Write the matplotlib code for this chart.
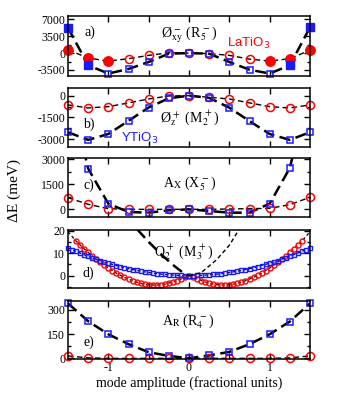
import numpy as np
import matplotlib
matplotlib.use("Agg")
import matplotlib.pyplot as plt
from matplotlib.ticker import MultipleLocator, FixedLocator

plt.rcParams["font.family"] = ["Liberation Serif", "DejaVu Serif"]
plt.rcParams["mathtext.fontset"] = "stix"
plt.rcParams["axes.unicode_minus"] = False

RED = "#ff0000"
BLUE = "#1a1aff"

# amplitudes for panels a, b, c, e
amp = [-1.5, -1.25, -1.0, -0.75, -0.5, -0.25, 0.0, 0.25, 0.5, 0.75, 1.0, 1.25, 1.5]

# a) phi_xy- (R5-)
a_la = [700, -1030, -1650, -1160, -470, 60, 0, -100, -470, -1250, -1650, -1160, 600]
a_y = [5250, -2530, -4240, -3300, -1850, -120, 0, -120, -1850, -3450, -4240, -2530, 5350]
a_la_filled = [0, 1, 2, 10, 11, 12]
a_y_filled = [0, 1, 11, 12]

# b) phi_z+ (M2+)
b_la = [-640, -850, -760, -500, -230, -20, 0, -110, -230, -500, -760, -850, -640]
b_y = [-2530, -3060, -2650, -1740, -820, -180, 0, -150, -830, -1760, -2650, -3060, -2530]

# c) A_X (X5-)   (blue end points are off the top of the frame)
c_la = [700, 300, 40, 0, 0, 0, 0, 0, 20, 40, 60, 280, 720]
c_y = [7500, 2440, 340, -160, -200, -60, 0, -100, -200, -200, 340, 2480, 7500]

# d) Q2+ (M3+)   dense scans
d_amp_y = np.linspace(-1.5, 1.5, 61)
d_y = [12.4, 11.6, 10.8, 10.05, 9.3, 8.6, 7.95, 7.3, 6.7, 6.1, 5.55,
       5.0, 4.5, 4.0, 3.55, 3.12, 2.72, 2.35, 2.0, 1.68, 1.4,
       1.13, 0.9, 0.7, 0.52, 0.37, 0.25, 0.15, 0.07, 0.02, 0.0,
       0.02, 0.07, 0.15, 0.25, 0.37, 0.52, 0.7, 0.9, 1.13, 1.4,
       1.68, 2.0, 2.35, 2.72, 3.12, 3.55, 4.0, 4.5, 5.0, 5.55,
       6.1, 6.7, 7.3, 7.95, 8.6, 9.3, 10.05, 10.8, 11.6, 12.4]
d_amp_la = np.linspace(-1.4, 1.4, 57)
d_la = [15.4, 13.6, 11.9, 10.3, 8.8, 7.4, 6.0, 4.7, 3.4, 2.2,
        1.1, 0.1, -0.8, -1.6, -2.3, -2.9, -3.4, -3.8, -4.1, -4.2,
        -4.2, -4.1, -3.8, -3.4, -2.8, -2.2, -1.5, -0.7, 0.0,
        -0.7, -1.5, -2.2, -2.8, -3.4, -3.8, -4.1, -4.2, -4.2,
        -4.1, -3.8, -3.4, -2.9, -2.3, -1.6, -0.8, 0.1, 1.1, 2.2,
        3.4, 4.7, 6.0, 7.4, 8.8, 10.3, 11.9, 13.6, 15.4]
d_fit_amp = [-1.5, -1.4, -1.3, -1.2, -1.1, -1.0, -0.9, -0.8, -0.7, -0.6, -0.5, -0.4, -0.3, -0.2, -0.1, 0.0,
             0.1, 0.2, 0.3, 0.4, 0.5, 0.6, 0.7, 0.8, 0.9, 1.0, 1.1, 1.2, 1.3, 1.4, 1.5]
d_la_fit = [19.5, 15.4, 11.9, 8.8, 6.0, 3.4, 1.1, -0.8, -2.3, -3.4, -4.1, -4.2, -3.8, -2.8, -1.5, 0.0,
            -1.5, -2.8, -3.8, -4.2, -4.1, -3.4, -2.3, -0.8, 1.1, 3.4, 6.0, 8.8, 11.9, 15.4, 19.5]
# steep curves through the origin
d_steep_l_x = [-0.64, -0.5, -0.36, -0.2, -0.07, 0.0]
d_steep_l_y = [20.5, 15.0, 10.0, 4.8, 1.2, 0.0]
d_steep_r_x = [0.0, 0.15, 0.34, 0.5, 0.62]
d_steep_r_y = [0.0, 1.3, 7.0, 13.5, 20.5]

# e) A_R (R4-)
e_la = [15, 3, 0, 0, 0, 0, 0, 0, 0, 0, 0, 3, 15]
e_y = [340, 230, 149, 88, 38, 15, 1, 18, 40, 88, 149, 228, 340]

fig = plt.figure(figsize=(3.39, 3.96), dpi=100)
L, W = 68 / 339, 242 / 339


def panel(top, bot):
    return fig.add_axes([L, 1 - bot / 396, W, (bot - top) / 396])


axes = [panel(16, 75.5), panel(88, 146.7), panel(158, 217), panel(230, 288), panel(301, 359)]

thin = dict(color="k", lw=1.0, dashes=(4, 2.5))
thick = dict(color="k", lw=1.8, dashes=(4.5, 2.2))
opn = dict(ls="none", mfc="none", mew=1.1)


def pair(ax, la, yt, clip_blue=False):
    ax.plot(amp, la, **thin)
    ax.plot(amp, yt, **thick)
    ax.plot(amp, la, marker="o", ms=5.8, mec=RED, clip_on=False, **opn)
    # blue markers in c) go far off the frame, keep them clipped there
    ax.plot(amp, yt, marker="s", ms=5.0, mec=BLUE, clip_on=clip_blue, **opn)


# a
ax = axes[0]
pair(ax, a_la, a_y)
ax.plot([amp[i] for i in a_la_filled], [a_la[i] for i in a_la_filled],
        ls="none", marker="o", ms=6.8, color=RED, clip_on=False)
ax.plot([amp[i] for i in a_y_filled], [a_y[i] for i in a_y_filled],
        ls="none", marker="s", ms=5.8, color=BLUE, clip_on=False)
ax.set_ylim(-4650, 7700)
ax.set_yticks([-3500, 0, 3500, 7000])
ax.yaxis.set_minor_locator(MultipleLocator(1750))

# b
ax = axes[1]
pair(ax, b_la, b_y)
ax.set_ylim(-3530, 530)
ax.set_yticks([-3000, -1500, 0])
ax.yaxis.set_minor_locator(MultipleLocator(750))

# c
ax = axes[2]
pair(ax, c_la, c_y, clip_blue=True)
ax.set_ylim(-460, 3080)
ax.set_yticks([0, 1500, 3000])
ax.yaxis.set_minor_locator(MultipleLocator(750))

# d
ax = axes[3]
ax.plot(d_fit_amp, d_la_fit, color="k", lw=0.9, dashes=(2.5, 2))
ax.plot(d_amp_y, d_y, color="k", lw=0.9, dashes=(2.5, 2))
ax.plot(d_amp_la, d_la, marker="o", ms=3.6, mec=RED, ls="none", mfc="none", mew=1.0)
ax.plot(d_amp_y, d_y, marker="s", ms=3.3, mec=BLUE, ls="none", mfc="none", mew=1.0, clip_on=False)
ax.plot(d_steep_l_x, d_steep_l_y, color="k", lw=1.8, dashes=(4.5, 2.2))
ax.plot(d_steep_r_x, d_steep_r_y, color="k", lw=1.0, dashes=(3, 2))
ax.set_ylim(-5.5, 20.3)
ax.set_yticks([0, 10, 20])
ax.yaxis.set_minor_locator(MultipleLocator(5))

# e
ax = axes[4]
pair(ax, e_la, e_y)
ax.set_ylim(-4, 355)
ax.set_yticks([0, 150, 300])
ax.yaxis.set_minor_locator(MultipleLocator(75))

for i, ax in enumerate(axes):
    ax.set_xlim(-1.5, 1.5)
    ax.xaxis.set_major_locator(FixedLocator([-1, -0.5, 0, 0.5, 1]))
    ax.tick_params(which="both", direction="in", top=True, right=True, labelsize=8.5, pad=2)
    ax.tick_params(which="major", length=4.5, width=1.0)
    ax.tick_params(which="minor", length=2.5, width=1.0)
    for s in ax.spines.values():
        s.set_linewidth(1.1)
    if i < 4:
        ax.set_xticklabels([])
    else:
        ax.set_xticklabels(["-1", "", "0", "", "1"])

fs = 10
tkw = dict(ha="center", va="center", fontsize=fs)
labels = [
    ("a)", 0.091, 0.73, r"Ø$_{\mathrm{xy}}^{\,-}$ (R$_{5}^{\,-}$)", 0.50, 0.68),
    ("b)", 0.087, 0.387, r"Ø$_{\mathrm{z}}^{\,+}$ (M$_{2}^{\,+}$)", 0.504, 0.49),
    ("c)", 0.087, 0.54, r"A$_{\mathrm{X}}$ (X$_{5}^{\,-}$)", 0.504, 0.56),
    ("d)", 0.083, 0.26, r"Q$_{2}^{\,+}$ (M$_{3}^{\,+}$)", 0.479, 0.62),
    ("e)", 0.087, 0.29, r"A$_{\mathrm{R}}$ (R$_{4}^{\,-}$)", 0.496, 0.64),
]
for ax, (lab, lx, ly, title, tx, ty) in zip(axes, labels):
    ax.text(lx, ly, lab, transform=ax.transAxes, **tkw)
    ax.text(tx, ty, title, transform=ax.transAxes, **tkw)

axes[0].text(0.748, 0.546, r"LaTiO$_3$", transform=axes[0].transAxes, color=RED,
             ha="center", va="center", fontsize=9.5, family="Liberation Sans",
             math_fontfamily="dejavusans")
axes[1].text(0.297, 0.148, r"YTiO$_3$", transform=axes[1].transAxes, color=BLUE,
             ha="center", va="center", fontsize=9.5, family="Liberation Sans",
             math_fontfamily="dejavusans")

fig.text(0.041, 0.52, "ΔE (meV)", rotation=90, ha="center", va="center", fontsize=11)
fig.text(0.557, 0.033, "mode amplitude (fractional units)", ha="center", va="center", fontsize=10)

fig.savefig("out.png", dpi=100)
